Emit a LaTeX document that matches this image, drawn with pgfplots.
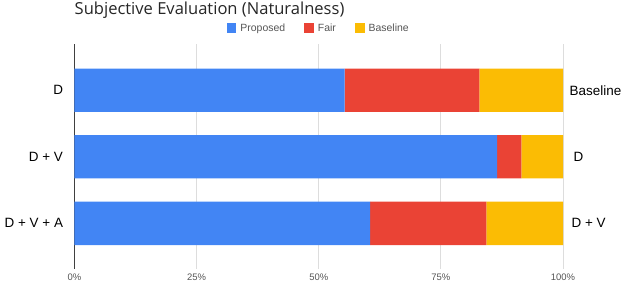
\documentclass[border=0pt]{standalone}
\usepackage{fontspec}
\setmainfont{Liberation Sans}
\newfontfamily\titlefont{Open Sans}
\usepackage{pgfplots}
\pgfplotsset{compat=1.18}
\definecolor{cblue}{HTML}{4285F4}
\definecolor{cred}{HTML}{EA4335}
\definecolor{cyellow}{HTML}{FBBC04}
\definecolor{cgrid}{HTML}{DDDDDD}
\definecolor{ctick}{HTML}{555555}
\begin{document}
\begin{tikzpicture}
\begin{axis}[
  scale only axis,
  width=488.5bp, height=225bp,
  xbar stacked,
  bar width=43.3bp,
  xmin=0, xmax=100,
  ymin=-0.69, ymax=2.69,
  y dir=reverse,
  ytick={0,1,2},
  yticklabels={D, D + V, D + V + A},
  yticklabel style={font=\fontsize{13.5}{15}\selectfont, color=black, xshift=-8bp},
  xtick={0,25,50,75,100},
  xticklabels={0\%,25\%,50\%,75\%,100\%},
  xticklabel style={font=\fontsize{9.5}{11}\selectfont, color=ctick, yshift=-1bp},
  major tick length=0pt,
  xmajorgrids,
  grid style={cgrid, line width=0.8pt},
  axis line style={draw=none},
  enlargelimits=false,
  clip=false,
  legend columns=3,
  legend style={at={(0.5,1)}, anchor=center, yshift=16bp, draw=none, fill=none,
    font=\fontsize{10.5}{12}\selectfont, text=ctick,
    /tikz/every even column/.append style={column sep=17bp},
    /tikz/every odd column/.append style={column sep=2bp}},
  legend image code/.code={\fill[#1] (0bp,-4.8bp) rectangle (9.7bp,4.8bp);},
]
\addplot[fill=cblue, draw=none] coordinates {(55.3,0) (86.5,1) (60.5,2)};
\addplot[fill=cred, draw=none] coordinates {(27.6,0) (5.0,1) (23.8,2)};
\addplot[fill=cyellow, draw=none] coordinates {(17.1,0) (8.5,1) (15.7,2)};
\legend{Proposed, Fair, Baseline}
\draw[black!75, line width=0.9pt] (axis cs:0,-0.69) -- (axis cs:0,2.69);
\node[anchor=base west, inner sep=0pt, font=\titlefont\fontsize{16.6}{18}\selectfont, text=black!85] at ([yshift=29.5bp]rel axis cs:0,1) {Subjective Evaluation (Naturalness)};
\node[anchor=west, font=\fontsize{13.5}{15}\selectfont, inner sep=0pt] at ([xshift=6.5bp]axis cs:100,0) {Baseline};
\node[anchor=west, font=\fontsize{13.5}{15}\selectfont, inner sep=0pt] at ([xshift=10.5bp]axis cs:100,1) {D};
\node[anchor=west, font=\fontsize{13.5}{15}\selectfont, inner sep=0pt] at ([xshift=8.5bp]axis cs:100,2) {D + V};
\coordinate (bl) at (rel axis cs:0,0);
\coordinate (tr) at (rel axis cs:1,1);
\end{axis}
\pgfresetboundingbox
\path ([shift={(-74.5bp,-12.7bp)}]bl) rectangle ([shift={(63bp,44.3bp)}]tr);
\end{tikzpicture}
\end{document}
